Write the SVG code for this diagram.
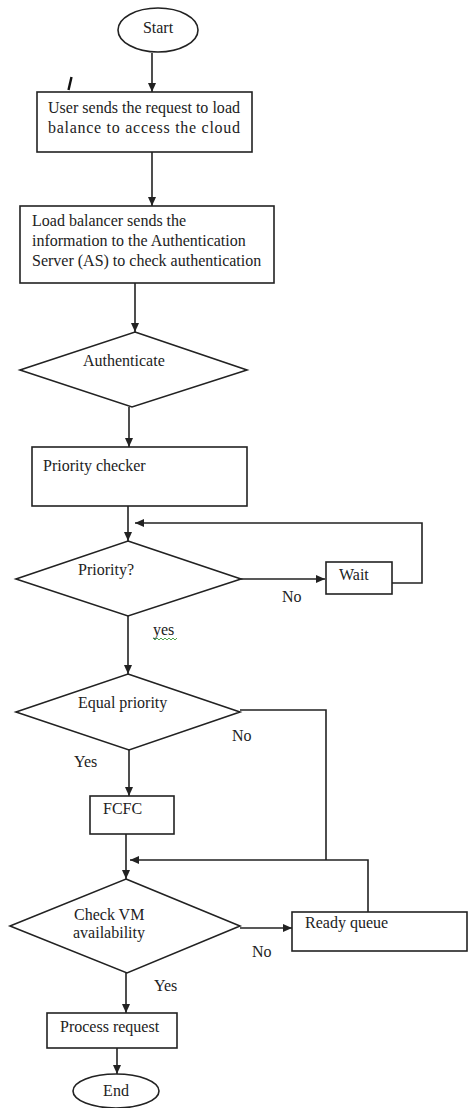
<svg xmlns="http://www.w3.org/2000/svg" width="468" height="1108" viewBox="0 0 468 1108">
<style>
.s{fill:#fff;stroke:#222;stroke-width:1.6}
.c{fill:none;stroke:#222;stroke-width:1.6}
text{font-family:"Liberation Serif","Times New Roman",serif;font-size:16px;fill:#222}
</style>
<defs>
<marker id="ah" markerUnits="userSpaceOnUse" markerWidth="9" markerHeight="8" refX="9" refY="4" orient="auto">
<path d="M0,0 L9,4 L0,8 z" fill="#222"/>
</marker>
</defs>
<rect width="468" height="1108" fill="#fff"/>
<g id="connectors">
<path class="c" d="M152,53 V92" marker-end="url(#ah)"/>
<path class="c" d="M152,152 V206" marker-end="url(#ah)"/>
<path class="c" d="M135,283 V332" marker-end="url(#ah)"/>
<path class="c" d="M129,407 V447" marker-end="url(#ah)"/>
<path class="c" d="M128,506 V541" marker-end="url(#ah)"/>
<path class="c" d="M241,579 H325" marker-end="url(#ah)"/>
<path class="c" d="M392,583 H422 V523 H135" marker-end="url(#ah)"/>
<path class="c" d="M128,616 V674" marker-end="url(#ah)"/>
<path class="c" d="M129,750 V796" marker-end="url(#ah)"/>
<path class="c" d="M240,710 H326 V860"/>
<path class="c" d="M126,834 V879" marker-end="url(#ah)"/>
<path class="c" d="M368,912 V860 H130" marker-end="url(#ah)"/>
<path class="c" d="M240,928 H292" marker-end="url(#ah)"/>
<path class="c" d="M126,973 V1013" marker-end="url(#ah)"/>
<path class="c" d="M117,1048 V1074" marker-end="url(#ah)"/>
<text x="282" y="602">No</text>
<text x="153" y="635">yes</text>
<path d="M153,638 l2,2 l2,-2 l2,2 l2,-2 l2,2 l2,-2 l2,2 l2,-2 l2,2 l2,-2 l2,2 l2,-2" fill="none" stroke="#3a9a3a" stroke-width="0.9"/>
<text x="232" y="741">No</text>
<text x="74" y="767">Yes</text>
<text x="252" y="957">No</text>
<text x="154" y="991">Yes</text>
</g>
<g id="mark">
<path d="M71.5,77 L68.5,90" stroke="#111" stroke-width="2.4" fill="none"/>
<circle cx="68.2" cy="94" r="1.2" fill="#111"/>
</g>
<g id="start">
<ellipse class="s" cx="158" cy="30" rx="40" ry="22"/>
<text x="158" y="33" text-anchor="middle">Start</text>
</g>
<g id="user">
<rect class="s" x="37" y="92" width="215" height="60"/>
<text x="48" y="113" textLength="192" lengthAdjust="spacing">User sends the request to load</text>
<text x="48" y="133" textLength="192" lengthAdjust="spacing">balance to access the cloud</text>
</g>
<g id="loadbalancer">
<rect class="s" x="20" y="206" width="254" height="77"/>
<text x="32" y="226">Load balancer sends the</text>
<text x="32" y="246">information to the Authentication</text>
<text x="32" y="266">Server (AS) to check authentication</text>
</g>
<g id="authenticate">
<polygon class="s" points="135,332 247,370 132,407 20,370"/>
<text x="83" y="366">Authenticate</text>
</g>
<g id="prioritychecker">
<rect class="s" x="32" y="447" width="215" height="59"/>
<text x="43" y="471">Priority checker</text>
</g>
<g id="priority">
<polygon class="s" points="128,541 241,579 128,616 16,579"/>
<text x="78" y="575">Priority?</text>
</g>
<g id="wait">
<rect class="s" x="326" y="562" width="66" height="32"/>
<text x="339" y="580">Wait</text>
</g>
<g id="equalpriority">
<polygon class="s" points="128,674 240,712 129,750 16,712"/>
<text x="78" y="708">Equal priority</text>
</g>
<g id="fcfc">
<rect class="s" x="90" y="796" width="84" height="38"/>
<text x="103" y="814">FCFC</text>
</g>
<g id="checkvm">
<polygon class="s" points="126,879 240,926 127,973 10,926"/>
<text x="74" y="920">Check VM</text>
<text x="73" y="938">availability</text>
</g>
<g id="readyqueue">
<rect class="s" x="292" y="912" width="175" height="39"/>
<text x="305" y="928">Ready queue</text>
</g>
<g id="process">
<rect class="s" x="47" y="1013" width="130" height="35"/>
<text x="60" y="1032">Process request</text>
</g>
<g id="end">
<ellipse class="s" cx="116" cy="1091" rx="43" ry="17"/>
<text x="116" y="1096" text-anchor="middle">End</text>
</g>
</svg>
